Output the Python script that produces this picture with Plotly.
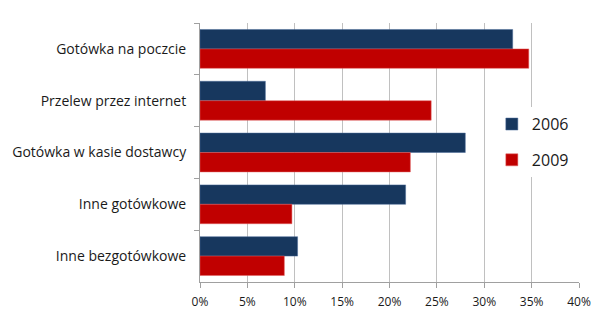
import plotly.graph_objects as go

categories = ["Gotówka na poczcie", "Przelew przez internet", "Gotówka w kasie dostawcy",
              "Inne gotówkowe", "Inne bezgotówkowe"]
values_2006 = [33.0, 6.9, 28.0, 21.7, 10.3]
values_2009 = [34.7, 24.4, 22.2, 9.7, 8.9]
x_ticks = [0, 5, 10, 15, 20, 25, 30, 35, 40]
x_tick_labels = [f"{t}%" for t in x_ticks]

fig = go.Figure()
fig.add_trace(go.Bar(y=categories, x=values_2006, name="2006", orientation="h", legendgroup="a",
                     marker=dict(color="#17375E", line=dict(color="#4a6a99", width=0.5))))
fig.add_trace(go.Bar(y=categories, x=values_2009, name="2009", orientation="h", legendgroup="b",
                     marker=dict(color="#C00000", line=dict(color="#e06060", width=0.5))))

fig.update_layout(
    width=600, height=310,
    margin=dict(l=200, r=21, t=23, b=28),
    paper_bgcolor="white", plot_bgcolor="white",
    barmode="group", bargap=0.25, bargroupgap=0,
    font=dict(family="Open Sans, sans-serif", color="#1a1a1a"),
    legend=dict(x=0.77, y=0.54, xanchor="left", yanchor="middle",
                bgcolor="white", font=dict(size=16), traceorder="grouped",
                itemwidth=30, tracegroupgap=12),
    showlegend=True,
)
fig.update_xaxes(range=[0, 40], tickvals=x_ticks, ticktext=x_tick_labels,
                 showgrid=True, gridcolor="#c0c0c0", gridwidth=1,
                 zeroline=False, showline=True, linecolor="#a0a0a0", linewidth=1,
                 tickfont=dict(size=12), ticks="outside", ticklen=5, tickcolor="#a0a0a0",
                 ticklabelstandoff=4, automargin=False, fixedrange=True)
fig.update_yaxes(autorange="reversed", showline=True, linecolor="#a0a0a0", linewidth=1,
                 ticks="outside", tickson="boundaries", ticklen=5, tickcolor="#a0a0a0",
                 tickfont=dict(size=14), showgrid=False, ticklabelstandoff=10, automargin=False)

fig.write_html("out.html")
